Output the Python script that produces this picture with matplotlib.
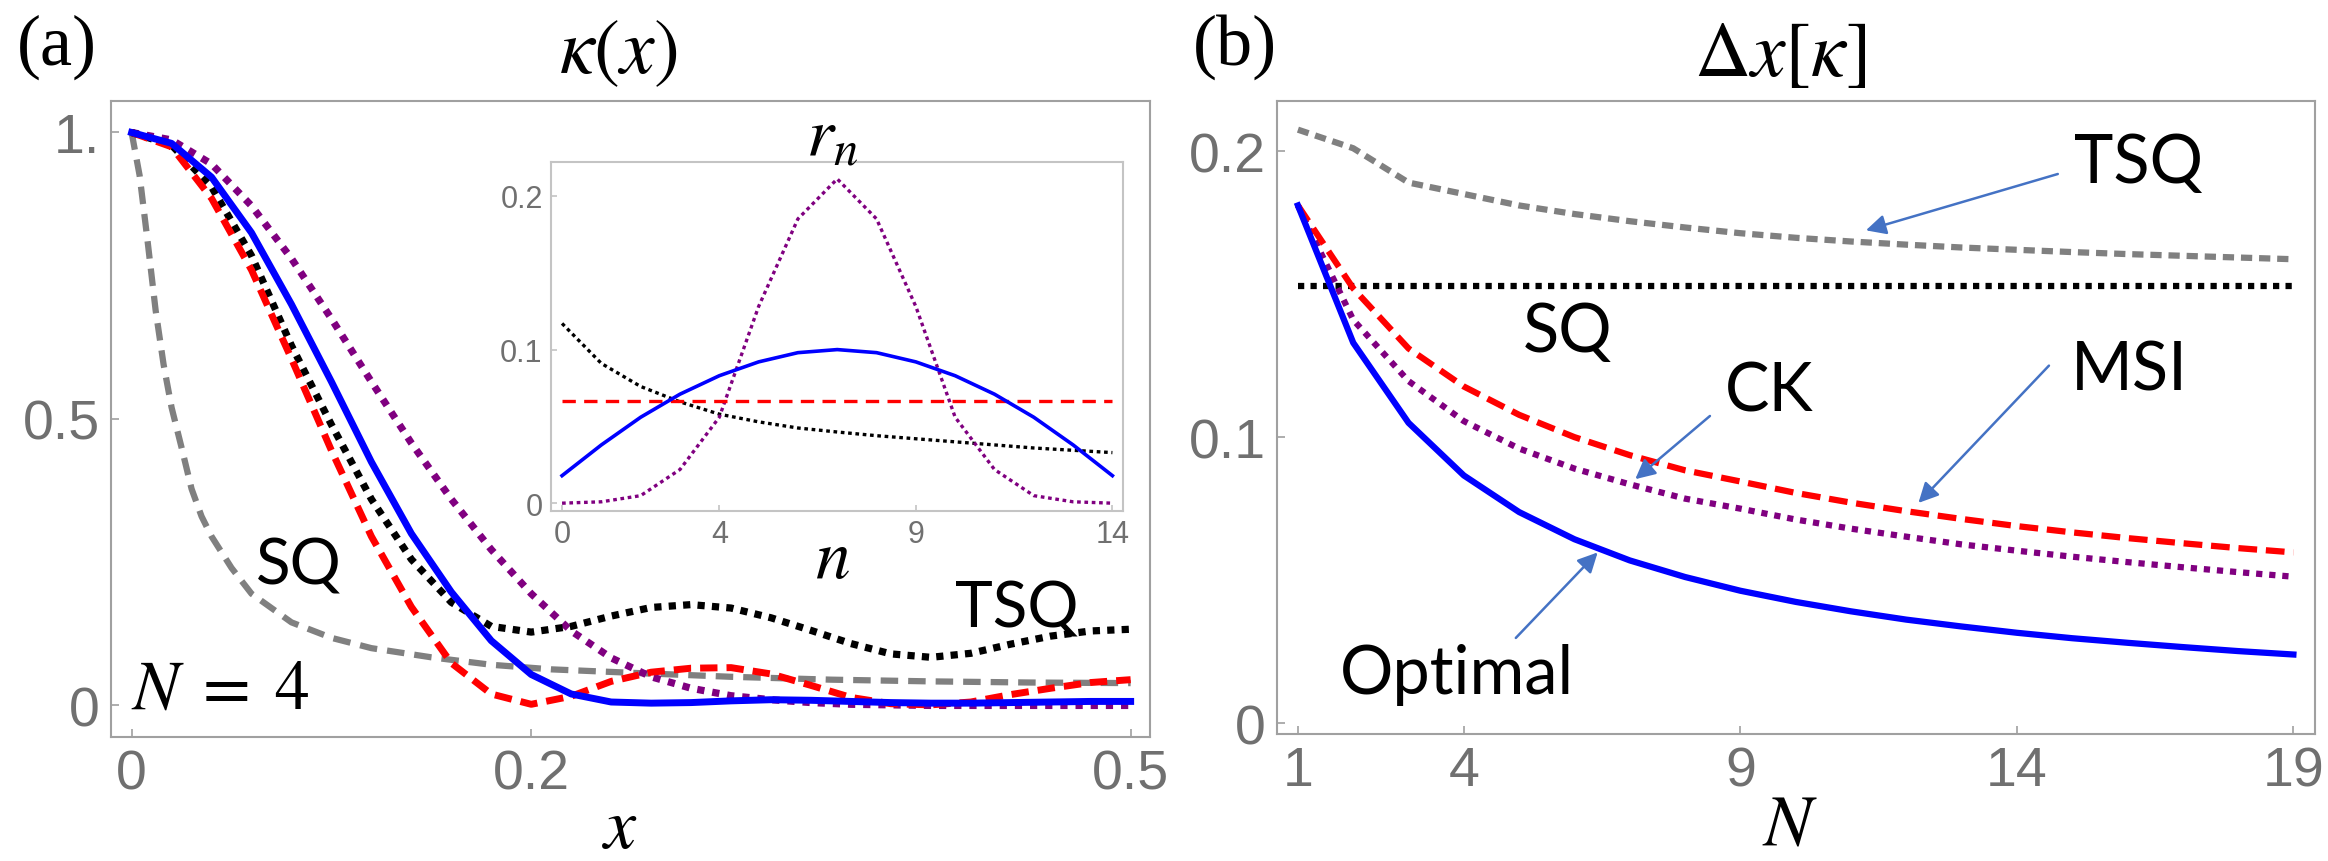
import numpy as np
import matplotlib
matplotlib.use("Agg")
import matplotlib.pyplot as plt

plt.rcParams["mathtext.fontset"] = "stix"
plt.rcParams["font.family"] = ["Liberation Sans", "DejaVu Sans"]

# ---- panel (a): kappa(x) for N = 4 ----
x_grid = [0.00, 0.02, 0.04, 0.06, 0.08, 0.10, 0.12, 0.14, 0.16, 0.18, 0.20, 0.22, 0.24,
          0.26, 0.28, 0.30, 0.32, 0.34, 0.36, 0.38, 0.40, 0.42, 0.44, 0.46, 0.48, 0.50]
kappa_opt = [1.0, 0.981, 0.922, 0.825, 0.700, 0.565, 0.425, 0.300, 0.198, 0.113, 0.054, 0.020, 0.006,
             0.004, 0.005, 0.008, 0.010, 0.009, 0.007, 0.005, 0.004, 0.004, 0.005, 0.006, 0.007, 0.007]
kappa_msi = [1.0, 0.975, 0.885, 0.760, 0.605, 0.445, 0.295, 0.172, 0.074, 0.020, 0.002, 0.016, 0.042,
             0.058, 0.065, 0.066, 0.055, 0.035, 0.014, 0.003, 0.001, 0.006, 0.019, 0.030, 0.040, 0.045]
kappa_tsq = [1.0, 0.978, 0.905, 0.785, 0.628, 0.490, 0.360, 0.255, 0.180, 0.138, 0.128, 0.138, 0.156,
             0.171, 0.176, 0.170, 0.153, 0.131, 0.108, 0.090, 0.084, 0.091, 0.107, 0.121, 0.130, 0.133]
kappa_ck = [1.0, 0.987, 0.945, 0.872, 0.780, 0.675, 0.565, 0.458, 0.360, 0.272, 0.195, 0.130, 0.083,
            0.050, 0.030, 0.017, 0.010, 0.005, 0.002, 0.001, 0.0, 0.0, 0.0, 0.0, 0.0, 0.0]
x_sq = [0.0, 0.004, 0.008, 0.012, 0.016, 0.02, 0.025, 0.03, 0.035, 0.04, 0.05, 0.06, 0.08,
        0.10, 0.12, 0.15, 0.18, 0.21, 0.25, 0.30, 0.35, 0.40, 0.45, 0.50]
kappa_sq = [1.0, 0.925, 0.810, 0.690, 0.595, 0.520, 0.450, 0.378, 0.330, 0.295, 0.240, 0.195, 0.145,
            0.118, 0.100, 0.084, 0.071, 0.063, 0.057, 0.050, 0.045, 0.042, 0.040, 0.039]

# ---- inset: r_n ----
n_vals = list(range(15))
r_opt = [0.018, 0.038, 0.056, 0.071, 0.083, 0.092, 0.098, 0.100, 0.098, 0.092, 0.083, 0.071, 0.056, 0.038, 0.018]
r_msi = [0.0667] * 15
r_tsq = [0.117, 0.091, 0.076, 0.066, 0.058, 0.053, 0.049, 0.0464, 0.044, 0.042, 0.040, 0.038, 0.036, 0.0345, 0.033]
r_ck = [0.0001, 0.001, 0.005, 0.022, 0.056, 0.128, 0.185, 0.211, 0.185, 0.128, 0.056, 0.022, 0.005, 0.001, 0.0001]

# ---- panel (b): delta x vs N ----
N_vals = list(range(1, 20))
dx_opt = [0.181, 0.133, 0.105, 0.0866, 0.0738, 0.0643, 0.0569, 0.0511, 0.0463, 0.0424,
          0.0391, 0.0362, 0.0338, 0.0316, 0.0297, 0.0281, 0.0266, 0.0252, 0.0240]
dx_msi = [0.181, 0.152, 0.131, 0.1177, 0.1078, 0.1000, 0.0937, 0.0884, 0.0845, 0.0805,
          0.0771, 0.0741, 0.0714, 0.0689, 0.0667, 0.0647, 0.0629, 0.0612, 0.0597]
dx_ck = [0.181, 0.141, 0.1196, 0.1056, 0.0960, 0.0890, 0.0835, 0.0785, 0.0750, 0.0712,
         0.0680, 0.0652, 0.0625, 0.0603, 0.0582, 0.0563, 0.0545, 0.0528, 0.0512]
dx_sq = [0.153] * 19
dx_tsq = [0.2075, 0.201, 0.189, 0.185, 0.181, 0.178, 0.1755, 0.1733, 0.1713, 0.1697,
          0.1684, 0.1673, 0.1663, 0.1655, 0.1647, 0.1640, 0.1634, 0.1628, 0.1622]

BLUE = "#0000ff"
RED = "#ff0000"
PURPLE = "#800080"
GRAY = "#808080"
TICK = "#707070"
FRAME = "#a0a0a0"
ARROW = "#4472c4"
LABEL_FONT = ["Lato", "DejaVu Sans"]
W, H = 2328, 862


def style_frame(ax, size, pad, frame=FRAME, length=6):
    for s in ax.spines.values():
        s.set_color(frame)
        s.set_linewidth(1.5)
    ax.tick_params(direction="in", length=length, width=1.2, color=frame,
                   labelcolor=TICK, labelsize=size, pad=pad)


def fig_text(px, py, s, **kw):
    # place text by pixel position of its centre in the 2328x862 canvas
    fig.text(px / W, 1 - py / H, s, ha="center", va="center", **kw)


fig = plt.figure(figsize=(23.28, 8.62), dpi=100)

# panel (a)
ax1 = fig.add_axes([0.0477, 0.1439, 0.4463, 0.7378])
ax1.plot(x_sq, kappa_sq, color=GRAY, lw=4.5, dashes=(2.8, 1.6))
ax1.plot(x_grid, kappa_ck, color=PURPLE, lw=5.2, dashes=(1.0, 1.1))
ax1.plot(x_grid, kappa_tsq, color="black", lw=5.2, dashes=(1.0, 1.0))
ax1.plot(x_grid, kappa_msi, color=RED, lw=5, dashes=(2.5, 1.3))
ax1.plot(x_grid, kappa_opt, color=BLUE, lw=5)
ax1.set_xlim(-0.0103, 0.5097)
ax1.set_ylim(-0.055, 1.055)
ax1.set_xticks([0, 0.2, 0.5], ["0", "0.2", "0.5"])
ax1.set_yticks([0, 0.5, 1.0], ["0", "0.5", "1."])
style_frame(ax1, 40, 8)
ax1.text(0.0836, 0.244, "SQ", fontsize=46, family=LABEL_FONT, ha="center", va="center")
ax1.text(0.443, 0.169, "TSQ", fontsize=46, family=LABEL_FONT, ha="center", va="center")
ax1.text(0.0445, 0.028, r"$N\;=\;4$", fontsize=50, ha="center", va="center")
fig_text(619, 53, r"$\kappa(x)$", fontsize=56)
fig_text(620, 830, r"$x$", fontsize=52)
fig_text(57, 47, "(a)", fontsize=52, family=["Liberation Serif"])

# inset r_n
ax_in = fig.add_axes([0.2367, 0.406, 0.2457, 0.4049])
ax_in.plot(n_vals, r_tsq, color="black", lw=2.4, dashes=(1.1, 1.1))
ax_in.plot(n_vals, r_ck, color=PURPLE, lw=2.4, dashes=(1.1, 1.1))
ax_in.plot(n_vals, r_msi, color=RED, lw=2.4, dashes=(4, 2.5))
ax_in.plot(n_vals, r_opt, color=BLUE, lw=2.6)
ax_in.set_xlim(-0.28, 14.27)
ax_in.set_ylim(-0.005, 0.222)
ax_in.set_xticks([0, 4, 9, 14])
ax_in.set_yticks([0, 0.1, 0.2], ["0", "0.1", "0.2"])
style_frame(ax_in, 22, 6, frame="#c4c4c4", length=4)
fig_text(832, 138, r"$r_n$", fontsize=50)
fig_text(832, 560, r"$n$", fontsize=50)

# panel (b)
ax2 = fig.add_axes([0.5485, 0.1473, 0.4459, 0.7343])
ax2.plot(N_vals, dx_tsq, color=GRAY, lw=4.5, dashes=(1.8, 1.1))
ax2.plot(N_vals, dx_sq, color="black", lw=4.5, dashes=(1.0, 1.0))
ax2.plot(N_vals, dx_ck, color=PURPLE, lw=4.5, dashes=(1.0, 1.1))
ax2.plot(N_vals, dx_msi, color=RED, lw=4.5, dashes=(3.0, 1.4))
ax2.plot(N_vals, dx_opt, color=BLUE, lw=4.5)
ax2.set_xlim(0.62, 19.39)
ax2.set_ylim(-0.0038, 0.2175)
ax2.set_xticks([1, 4, 9, 14, 19])
ax2.set_yticks([0, 0.1, 0.2], ["0", "0.1", "0.2"])
style_frame(ax2, 40, 8)
fig_text(1780, 55, r"$\Delta x[\kappa]$", fontsize=56)
fig_text(1790, 826, r"$N$", fontsize=52)
fig_text(1235, 47, "(b)", fontsize=52, family=["Liberation Serif"])

arrow = dict(arrowstyle="-|>", color=ARROW, lw=1.8, mutation_scale=30, shrinkA=0, shrinkB=0)
ax2.text(16.2, 0.196, "TSQ", fontsize=48, family=LABEL_FONT, ha="center", va="center")
ax2.annotate("", xy=(11.27, 0.1723), xytext=(14.74, 0.192), arrowprops=arrow)
ax2.text(5.88, 0.1367, "SQ", fontsize=48, family=LABEL_FONT, ha="center", va="center")
ax2.text(16.03, 0.1232, "MSI", fontsize=48, family=LABEL_FONT, ha="center", va="center")
ax2.annotate("", xy=(12.22, 0.077), xytext=(14.58, 0.125), arrowprops=arrow)
ax2.text(9.53, 0.116, "CK", fontsize=48, family=LABEL_FONT, ha="center", va="center")
ax2.annotate("", xy=(7.1, 0.0853), xytext=(8.45, 0.1074), arrowprops=arrow)
ax2.text(3.87, 0.0173, "Optimal", fontsize=48, family=LABEL_FONT, ha="center", va="center")
ax2.annotate("", xy=(6.42, 0.0597), xytext=(4.94, 0.0298), arrowprops=arrow)

fig.savefig("out.png", dpi=100)
